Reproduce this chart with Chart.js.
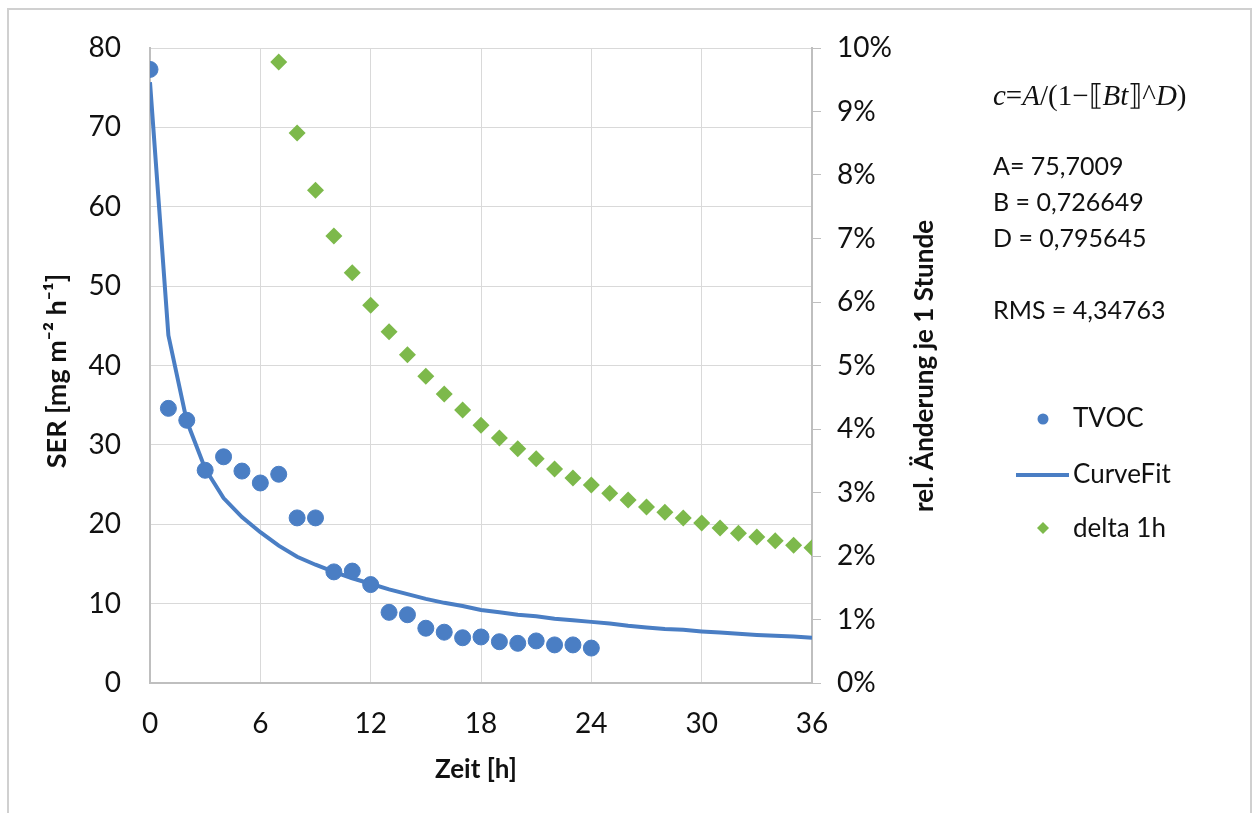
<!DOCTYPE html>
<html>
<head>
<meta charset="utf-8">
<script src="https://cdn.jsdelivr.net/npm/chart.js@4.4.1/dist/chart.umd.min.js"></script>
<style>
  html, body { margin: 0; padding: 0; background: #ffffff; }
  #wrap { position: relative; width: 1260px; height: 813px; overflow: hidden; }
  #frame { position: absolute; left: 7px; top: 8px; width: 1245px; height: 820px; border: 2px solid #d0d0d0; box-sizing: border-box; pointer-events: none; }
  canvas { position: absolute; left: 0; top: 0; }
</style>
</head>
<body>
<div id="wrap">
  <canvas id="c" width="1260" height="813"></canvas>
  <div id="frame"></div>
</div>
<script>
// ---- data ----
const hoursTVOC = [0,1,2,3,4,5,6,7,8,9,10,11,12,13,14,15,16,17,18,19,20,21,22,23,24];
const tvoc = [77.3,34.6,33.1,26.8,28.5,26.7,25.2,26.3,20.8,20.8,14.0,14.1,12.4,8.9,8.6,6.9,6.4,5.7,5.8,5.2,5.0,5.3,4.8,4.8,4.4];

const hoursFit = [0,1,2,3,4,5,6,7,8,9,10,11,12,13,14,15,16,17,18,19,20,21,22,23,24,25,26,27,28,29,30,31,32,33,34,35,36];
const curveFit = [75.7,43.8,33.0,27.0,23.3,20.9,19.0,17.3,15.9,14.9,14.0,13.2,12.5,11.8,11.2,10.6,10.1,9.7,9.2,8.9,8.6,8.4,8.1,7.9,7.7,7.5,7.2,7.0,6.8,6.7,6.5,6.35,6.2,6.05,5.95,5.85,5.7];

const hoursDelta = [7,8,9,10,11,12,13,14,15,16,17,18,19,20,21,22,23,24,25,26,27,28,29,30,31,32,33,34,35,36];
const delta1h = [9.78,8.66,7.76,7.04,6.46,5.95,5.53,5.17,4.83,4.55,4.30,4.06,3.86,3.69,3.53,3.37,3.23,3.12,2.99,2.88,2.77,2.69,2.60,2.52,2.44,2.36,2.30,2.24,2.17,2.13];

const xTicks = [0,6,12,18,24,30,36];
const leftTicks = [0,10,20,30,40,50,60,70,80];
const rightTicks = [0,1,2,3,4,5,6,7,8,9,10];

const seriesNames = ['TVOC','CurveFit','delta 1h'];
const xTitle = 'Zeit [h]';
const yTitle = 'SER [mg m\u207B\u00B2 h\u207B\u00B9]';
const y1Title = 'rel. \u00C4nderung je 1 Stunde';
const paramLines = ['A= 75,7009','B = 0,726649','D = 0,795645','','RMS = 4,34763'];

// ---- styling ----
const BLUE = '#4a7ec4';
const GREEN = '#7db94b';
const GRID = '#d9d9d9';
const AXIS = '#bfbfbf';
const TXT = '#111111';
const FONT = 'Lato, "Open Sans", "Liberation Sans", sans-serif';

const pts = (xs, ys) => xs.map((x, i) => ({x: x, y: ys[i]}));

const annot = {
  id: 'annot',
  afterDraw(chart) {
    const ctx = chart.ctx;
    ctx.save();
    ctx.fillStyle = TXT;
    // axis titles
    ctx.font = 'bold 26px ' + FONT;
    ctx.textAlign = 'center';
    ctx.textBaseline = 'middle';
    ctx.fillText(xTitle, 476, 770);
    ctx.save();
    ctx.translate(57, 371);
    ctx.rotate(-Math.PI / 2);
    ctx.font = 'bold 27px ' + FONT;
    ctx.fillText(yTitle, 0, 0);
    ctx.restore();
    ctx.save();
    ctx.translate(925, 366);
    ctx.rotate(-Math.PI / 2);
    ctx.fillText(y1Title, 0, 0);
    ctx.restore();

    // formula
    const segs = [['c',1],['=',0],['A',1],['/(1\u2212',0],['\u27E6',0],['Bt',1],['\u27E7',0],['^',0],['D',1],[')',0]];
    let x = 993;
    ctx.textAlign = 'left';
    ctx.textBaseline = 'alphabetic';
    segs.forEach(s => {
      ctx.font = (s[1] ? 'italic ' : '') + '29px "Liberation Serif", "DejaVu Serif", serif';
      ctx.fillText(s[0], x, 105);
      x += ctx.measureText(s[0]).width;
    });

    // parameters
    ctx.font = '25px ' + FONT;
    paramLines.forEach((t, i) => {
      ctx.fillText(t, 993, 175 + i * 36);
    });

    // legend
    const ds = chart.data.datasets;
    ctx.font = '26px ' + FONT;
    ctx.textBaseline = 'middle';
    // TVOC
    ctx.fillStyle = ds[0].backgroundColor;
    ctx.beginPath(); ctx.arc(1043, 419, 5.5, 0, Math.PI * 2); ctx.fill();
    ctx.fillStyle = TXT;
    ctx.fillText(seriesNames[0], 1073, 419);
    // CurveFit
    ctx.strokeStyle = ds[1].borderColor;
    ctx.lineWidth = 4;
    ctx.beginPath(); ctx.moveTo(1016, 475); ctx.lineTo(1069, 475); ctx.stroke();
    ctx.fillText(seriesNames[1], 1073, 475);
    // delta
    ctx.fillStyle = ds[2].backgroundColor;
    ctx.beginPath();
    ctx.moveTo(1043, 522); ctx.lineTo(1049, 528); ctx.lineTo(1043, 534); ctx.lineTo(1037, 528); ctx.closePath(); ctx.fill();
    ctx.fillStyle = TXT;
    ctx.fillText(seriesNames[2], 1073, 529);
    ctx.restore();
  }
};

new Chart(document.getElementById('c'), {
  type: 'scatter',
  data: {
    datasets: [
      {
        label: seriesNames[0], data: pts(hoursTVOC, tvoc), yAxisID: 'y',
        backgroundColor: BLUE, borderColor: BLUE, pointRadius: 8, pointHoverRadius: 8,
        pointStyle: 'circle', showLine: false, order: 1
      },
      {
        label: seriesNames[1], data: pts(hoursFit, curveFit), yAxisID: 'y',
        borderColor: BLUE, backgroundColor: BLUE, borderWidth: 4, pointRadius: 0,
        showLine: true, tension: 0, order: 3
      },
      {
        label: seriesNames[2], data: pts(hoursDelta, delta1h), yAxisID: 'y1',
        backgroundColor: GREEN, borderColor: GREEN, pointStyle: 'rectRot', pointRadius: 8.5, pointHoverRadius: 8.5,
        borderWidth: 0, showLine: false, order: 2
      }
    ]
  },
  options: {
    responsive: false,
    devicePixelRatio: 1,
    animation: false,
    layout: { padding: { top: 48, left: 0, right: 0, bottom: 0 } },
    plugins: { legend: { display: false }, tooltip: { enabled: false } },
    scales: {
      x: {
        type: 'linear', min: 0, max: 36,
        afterBuildTicks: s => { s.ticks = xTicks.map(v => ({value: v})); },
        afterFit: s => { s.height = 130; },
        grid: { color: GRID, lineWidth: 1, drawTicks: false },
        border: { color: AXIS, width: 2 },
        ticks: { font: { family: FONT, size: 28 }, color: TXT, padding: 24, maxRotation: 0 }
      },
      y: {
        position: 'left', min: 0, max: 80,
        afterBuildTicks: s => { s.ticks = leftTicks.map(v => ({value: v})); },
        afterFit: s => { s.width = 150; },
        grid: { color: GRID, lineWidth: 1, drawTicks: false },
        border: { color: AXIS, width: 2 },
        ticks: { font: { family: FONT, size: 28 }, color: TXT, padding: 29 }
      },
      y1: {
        position: 'right', min: 0, max: 10,
        afterBuildTicks: s => { s.ticks = rightTicks.map(v => ({value: v})); },
        afterFit: s => { s.width = 448; },
        grid: { drawOnChartArea: false, drawTicks: true, tickLength: 9, color: AXIS, tickColor: AXIS },
        border: { color: AXIS, width: 2 },
        ticks: { font: { family: FONT, size: 28 }, color: TXT, padding: 16, callback: v => v + '%' }
      }
    }
  },
  plugins: [annot]
});
</script>
</body>
</html>
